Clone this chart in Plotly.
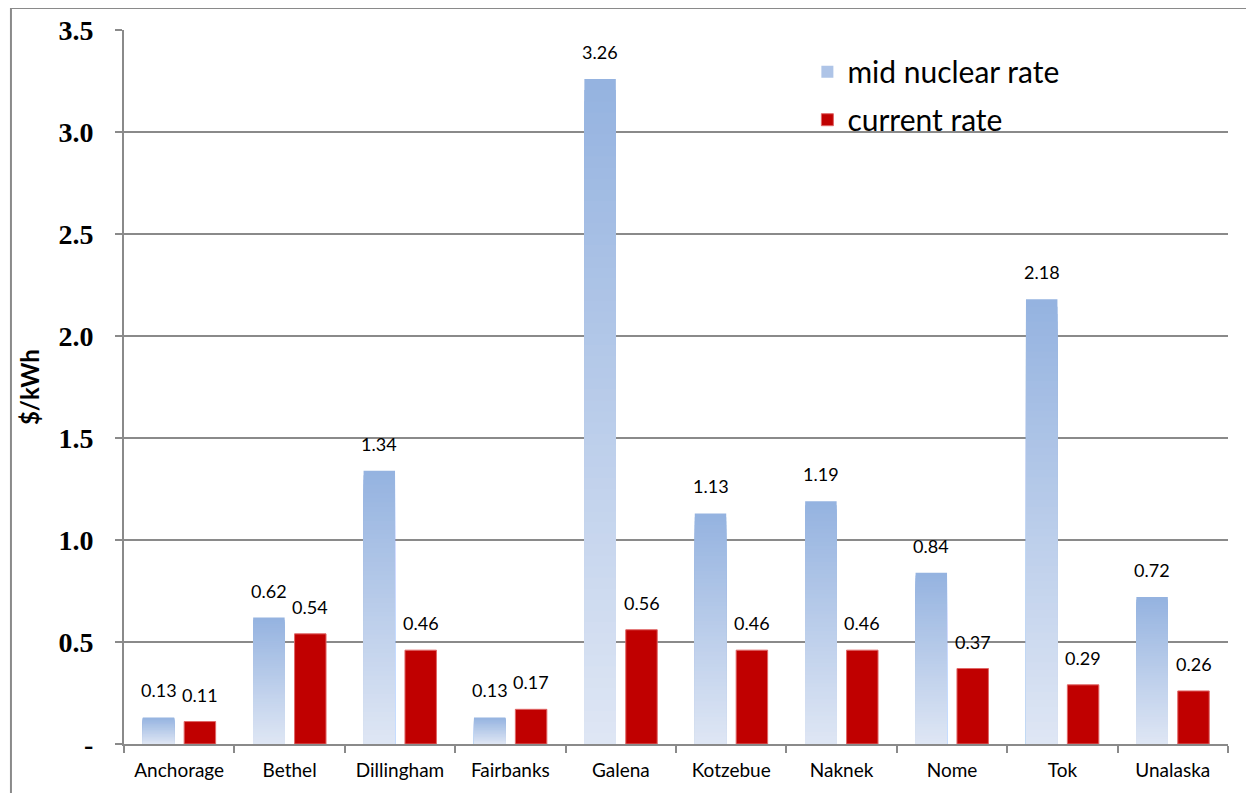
import plotly.graph_objects as go

categories = ["Anchorage", "Bethel", "Dillingham", "Fairbanks", "Galena",
              "Kotzebue", "Naknek", "Nome", "Tok", "Unalaska"]
mid_nuclear = [0.13, 0.62, 1.34, 0.13, 3.26, 1.13, 1.19, 0.84, 2.18, 0.72]
current = [0.11, 0.54, 0.46, 0.17, 0.56, 0.46, 0.46, 0.37, 0.29, 0.26]
y_ticks = [0, 0.5, 1.0, 1.5, 2.0, 2.5, 3.0, 3.5]
y_tick_text = ["-", "0.5", "1.0", "1.5", "2.0", "2.5", "3.0", "3.5"]
y_title = "$/kWh"

BAR_W = 0.285
BLUE_OFF = -0.33
RED_OFF = 0.045
TOP_RGB = (149, 179, 224)
BOT_RGB = (222, 230, 244)
N = 60
CAT_PX = 110.4

fig = go.Figure()

# gradient bars: overlaid bars, each shorter and lighter than the last
for k in range(N):
    t = k / (N - 1)
    r, g, b = [round(TOP_RGB[i] + (BOT_RGB[i] - TOP_RGB[i]) * t) for i in range(3)]
    frac = (N - k) / N
    fig.add_trace(go.Bar(
        x=categories, y=[v * frac for v in mid_nuclear],
        width=BAR_W, offset=BLUE_OFF,
        marker=dict(color=f"rgb({r},{g},{b})", line=dict(width=0)),
        name="mid nuclear rate", showlegend=(k == N // 3),
        legendgroup="nuc", hoverinfo="skip",
    ))

fig.add_trace(go.Bar(
    x=categories, y=current, width=BAR_W, offset=RED_OFF,
    marker=dict(color="#C00000", line=dict(color="#E06666", width=1)),
    name="current rate", legendgroup="cur",
))

half = CAT_PX * BAR_W / 2
for c, v in zip(categories, mid_nuclear):
    fig.add_annotation(x=c, y=v, xref="x", yref="y", text=f"{v:.2f}",
                       showarrow=False, xshift=BLUE_OFF * CAT_PX + half,
                       yshift=14, yanchor="bottom",
                       font=dict(family="Lato", size=18, color="#000"))
for c, v in zip(categories, current):
    fig.add_annotation(x=c, y=v, xref="x", yref="y", text=f"{v:.2f}",
                       showarrow=False, xshift=RED_OFF * CAT_PX + half,
                       yshift=14, yanchor="bottom",
                       font=dict(family="Lato", size=18, color="#000"))

# y-axis title
fig.add_annotation(x=-0.086, y=0.5, xref="paper", yref="paper", text=y_title,
                   textangle=-90, showarrow=False, xanchor="center",
                   yanchor="middle",
                   font=dict(family="Lato", size=24, color="#000",
                             weight="bold"))

# outer chart border (left and top edges)
fig.add_shape(type="line", xref="paper", yref="paper",
              x0=-0.1024, x1=-0.1024, y0=1.0308, y1=-0.1,
              line=dict(color="#8a8a8a", width=2))
fig.add_shape(type="line", xref="paper", yref="paper",
              x0=-0.1024, x1=1.03, y0=1.0308, y1=1.0308,
              line=dict(color="#8a8a8a", width=2))

fig.update_layout(
    width=1238, height=785,
    margin=dict(l=116, r=18, t=22, b=49),
    paper_bgcolor="white", plot_bgcolor="white",
    barmode="overlay",
    showlegend=True,
    legend=dict(x=0.619, y=0.978, xanchor="left", yanchor="top",
                font=dict(family="Lato", size=30, color="#000"),
                bgcolor="rgba(0,0,0,0)", tracegroupgap=6,
                traceorder="grouped"),
    xaxis=dict(
        type="category", showgrid=False, showline=True, linecolor="#8a8a8a",
        linewidth=2, ticks="outside", tickson="boundaries", ticklen=7,
        tickcolor="#8a8a8a", tickwidth=2,
        tickfont=dict(family="Lato", size=19, color="#000"),
        ticklabelstandoff=8,
        range=[-0.5, 9.5], automargin=False,
    ),
    yaxis=dict(
        range=[0, 3.5], tickvals=y_ticks, ticktext=y_tick_text,
        showgrid=True, gridcolor="#8a8a8a", gridwidth=2,
        showline=True, linecolor="#8a8a8a", linewidth=2,
        ticks="outside", ticklen=7, tickcolor="#8a8a8a", tickwidth=2,
        tickfont=dict(family="Liberation Serif", size=28, color="#000",
                      weight="bold"),
        ticklabelstandoff=16,
        zeroline=False, automargin=False,
    ),
)

fig.write_html("out.html")
